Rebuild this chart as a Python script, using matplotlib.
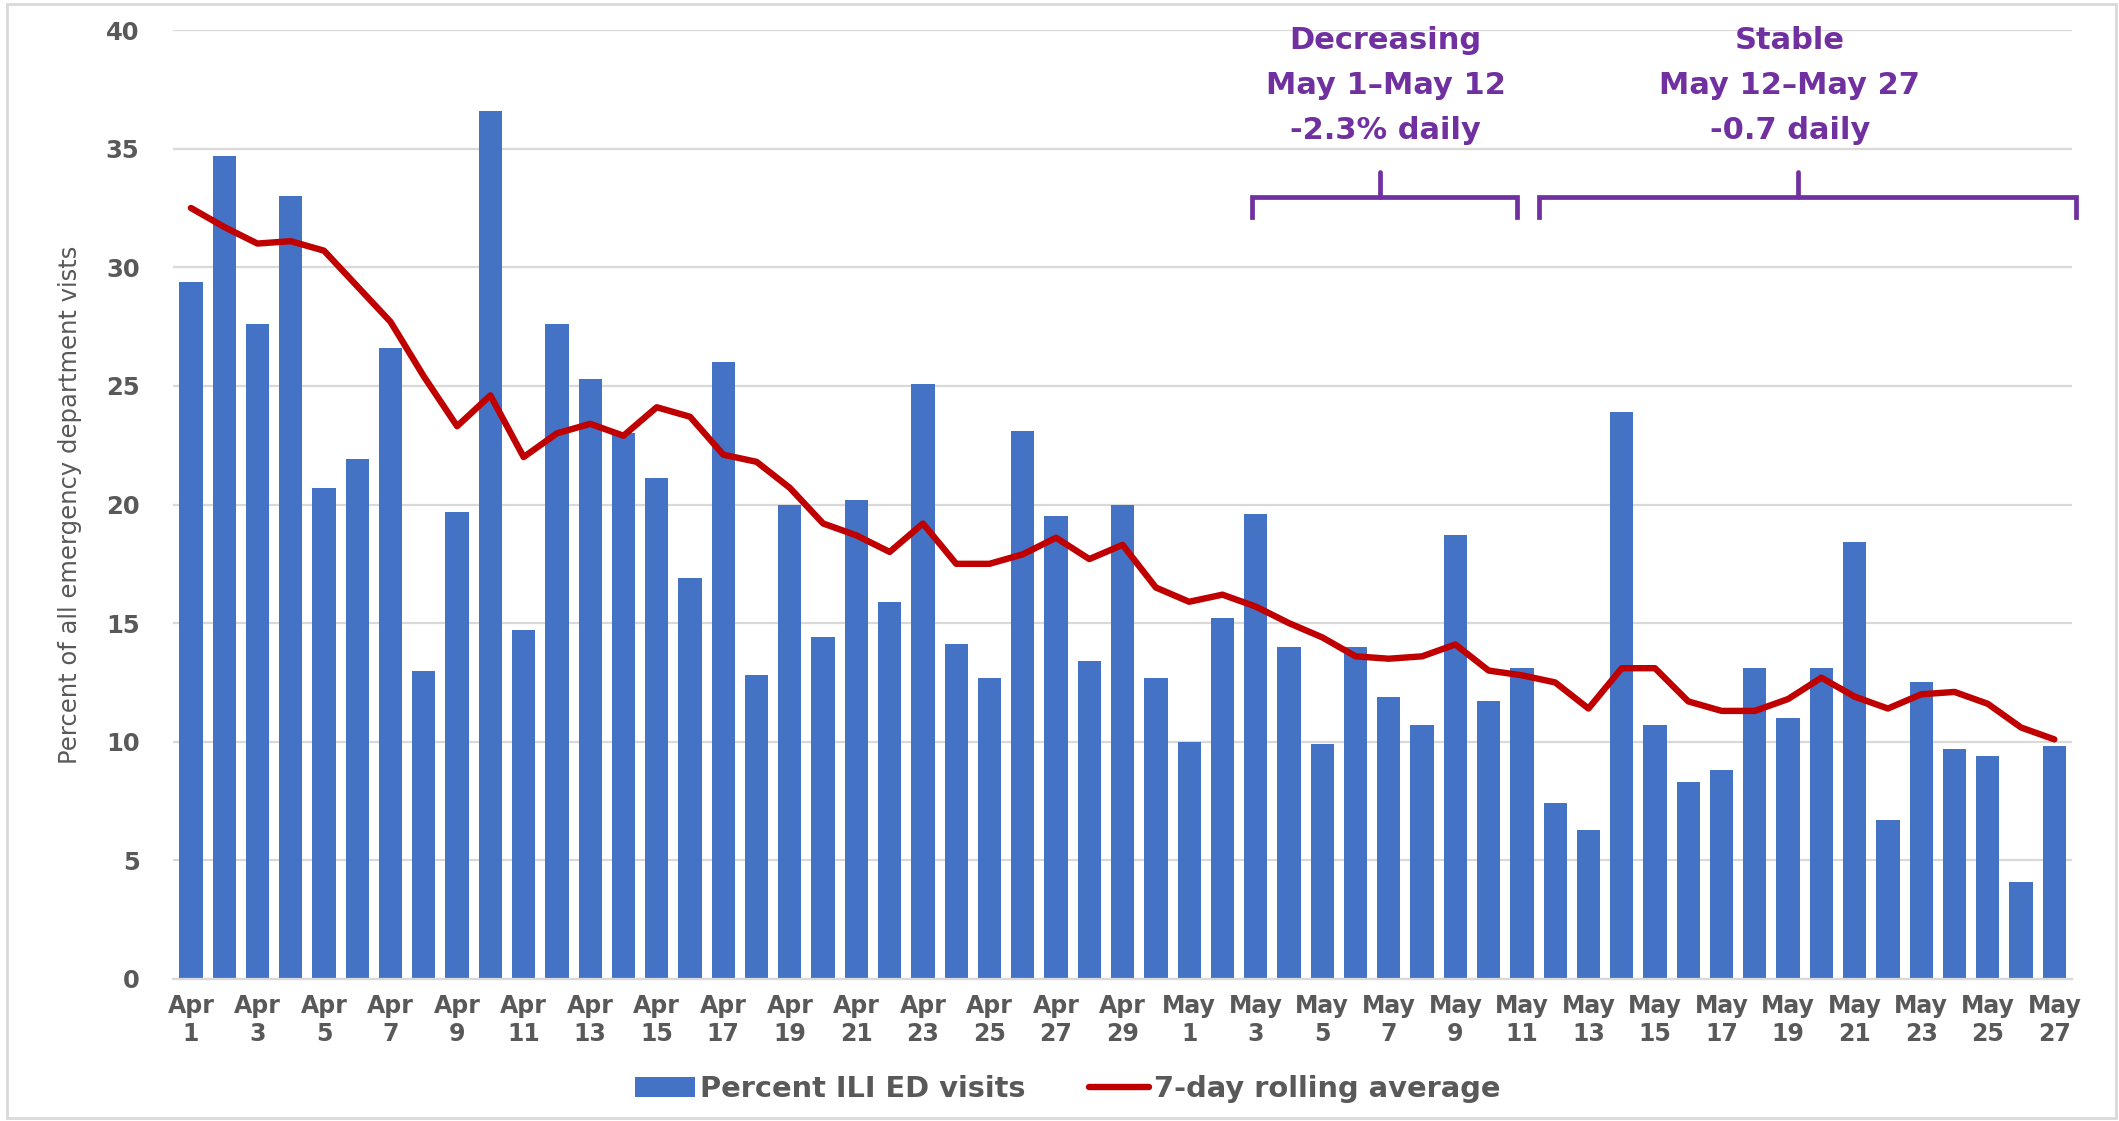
import numpy as np
import pandas as pd
import matplotlib
matplotlib.use("Agg")
import matplotlib.pyplot as plt
from matplotlib.patches import Rectangle

# daily data, Apr 1 - May 27
days = pd.date_range("2020-04-01", "2020-05-27", freq="D")
pct_ili = [29.4, 34.7, 27.6, 33.0, 20.7, 21.9, 26.6, 13.0, 19.7, 36.6,
           14.7, 27.6, 25.3, 23.0, 21.1, 16.9, 26.0, 12.8, 20.0, 14.4,
           20.2, 15.9, 25.1, 14.1, 12.7, 23.1, 19.5, 13.4, 20.0, 12.7,
           10.0, 15.2, 19.6, 14.0, 9.9, 14.0, 11.9, 10.7, 18.7, 11.7,
           13.1, 7.4, 6.3, 23.9, 10.7, 8.3, 8.8, 13.1, 11.0, 13.1,
           18.4, 6.7, 12.5, 9.7, 9.4, 4.1, 9.8]
rolling7 = [32.5, 31.7, 31.0, 31.1, 30.7, 29.2, 27.7, 25.4, 23.3, 24.6,
            22.0, 23.0, 23.4, 22.9, 24.1, 23.7, 22.1, 21.8, 20.7, 19.2,
            18.7, 18.0, 19.2, 17.5, 17.5, 17.9, 18.6, 17.7, 18.3, 16.5,
            15.9, 16.2, 15.7, 15.0, 14.4, 13.6, 13.5, 13.6, 14.1, 13.0,
            12.8, 12.5, 11.4, 13.1, 13.1, 11.7, 11.3, 11.3, 11.8, 12.7,
            11.9, 11.4, 12.0, 12.1, 11.6, 10.6, 10.1]
labels = [d.strftime("%b") + "\n" + str(d.day) for d in days]

# bracket annotations: (text lines, start idx, end idx, tick idx, text centre)
brackets = [
    (["Decreasing", "May 1\u2013May 12", "-2.3% daily"], 31.9, 39.85, 35.75, 35.9),
    (["Stable", "May 12\u2013May 27", "-0.7 daily"], 40.5, 56.64, 48.3, 48.05),
]

blue = "#4472C4"
red = "#C00000"
purple = "#7030A0"
gray = "#595959"
grid = "#D9D9D9"

fig = plt.figure(figsize=(21.19, 11.21), dpi=100)
ax = fig.add_axes([0.0816, 0.1267, 0.8962, 0.8465])

x = np.arange(len(days))
bars = ax.bar(x, pct_ili, width=0.7, color=blue, label="Percent ILI ED visits", zorder=2)
line, = ax.plot(x, rolling7, color=red, lw=4.6, solid_joinstyle="round",
                solid_capstyle="round", label="7-day rolling average", zorder=3)

ax.set_xlim(-0.54, 56.53)
ax.set_ylim(0, 40)
ax.set_yticks(range(0, 41, 5))
ax.yaxis.grid(True, color=grid, lw=1.6, zorder=0)
ax.set_axisbelow(True)
for s in ["top", "right", "left"]:
    ax.spines[s].set_visible(False)
ax.spines["bottom"].set_color(grid)
ax.spines["bottom"].set_linewidth(1.6)

ax.set_xticks(x[::2])
ax.set_xticklabels(labels[::2], fontsize=17, fontweight="bold", color=gray,
                   linespacing=1.2)
ax.tick_params(axis="x", length=0, pad=11)
ax.tick_params(axis="y", length=0, pad=24, labelsize=17.5, labelcolor=gray)
for t in ax.get_yticklabels():
    t.set_fontweight("bold")

ax.set_ylabel("Percent of all emergency department vists", fontsize=17.5,
              color=gray, fontweight="medium",
              family=["Liberation Sans Narrow", "DejaVu Sans"])
ax.yaxis.set_label_coords(-0.048, 0.5)

# brackets with text
for lines, x0, x1, xt, xc in brackets:
    ax.plot([x0, x0, x1, x1], [32.12, 32.96, 32.96, 32.12], color=purple,
            lw=3.4, solid_joinstyle="miter", clip_on=False, zorder=4)
    ax.plot([xt, xt], [32.96, 34.0], color=purple, lw=3.4,
            solid_capstyle="round", clip_on=False, zorder=4)
    for ln, yb in zip(lines, [39.2, 37.3, 35.4]):
        ax.text(xc, yb, ln, ha="center", va="baseline", fontsize=22,
                fontweight="bold", color=purple, zorder=5)

leg = fig.legend([bars, line], ["Percent ILI ED visits", "7-day rolling average"],
                 loc="center", bbox_to_anchor=(0.5037, 0.0285), ncol=2,
                 frameon=False, handlelength=2.1, handletextpad=0.15,
                 columnspacing=2.2, prop={"size": 20.8, "weight": "bold"})
for t in leg.get_texts():
    t.set_color(gray)

fig.patches.append(Rectangle((0.0033, 0.003), 0.9953, 0.993, transform=fig.transFigure,
                             fill=False, edgecolor=grid, lw=2))

fig.savefig("out.png", dpi=100)
